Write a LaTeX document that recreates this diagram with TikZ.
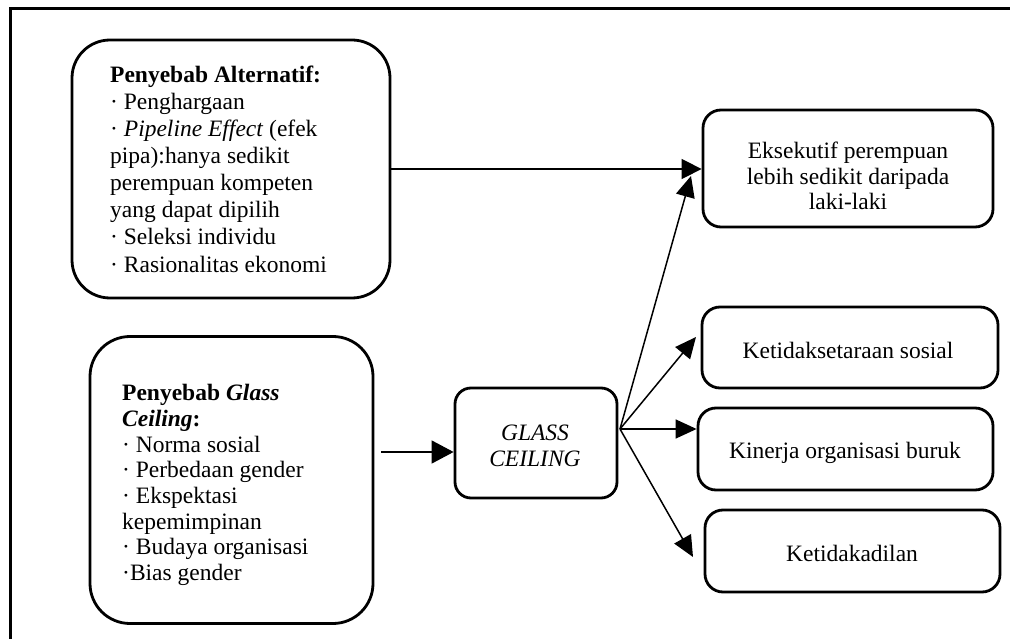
\documentclass[tikz,border=0pt]{standalone}
\usepackage{fontspec}
\setmainfont{Liberation Serif}
\usetikzlibrary{arrows.meta}
\begin{document}
\begin{tikzpicture}[x=1pt,y=-1pt,
  box/.style={draw, line width=2.8pt, rounded corners=#1, inner sep=0pt},
  box/.default=16pt,
  txt/.style={font=\fontsize{23.5}{25.5}\selectfont, inner sep=0pt},
  arr/.style={line width=1.5pt, -{Triangle[length=21pt,width=19pt]}},
  frame/.style={line width=3pt}]
\useasboundingbox (0,0) rectangle (1010,639);
\draw[frame] (10,645) -- (10,9) -- (1015,9);
% boxes
\node[box=38pt, minimum width=318pt, minimum height=258pt] (A) at (231,169) {};
\node[box=40pt, minimum width=283pt, minimum height=287pt] (B) at (231.5,480) {};
\node[box=16pt, minimum width=162pt, minimum height=110pt] (GC) at (536,443) {};
\node[box=18pt, minimum width=290pt, minimum height=117pt] (E1) at (848,168.5) {};
\node[box=18pt, minimum width=296pt, minimum height=81pt] (E2) at (850,347.5) {};
\node[box=18pt, minimum width=295pt, minimum height=82pt] (E3) at (845.5,449) {};
\node[box=18pt, minimum width=295pt, minimum height=82pt] (E4) at (852.5,551) {};
% texts
\node[txt, anchor=west, align=left, font=\fontsize{23.5}{27.1}\selectfont] (At) at (110,169) {%
  \textbf{Penyebab Alternatif:}\\
  · Penghargaan\\
  · \textit{Pipeline Effect} (efek\\
  pipa):hanya sedikit\\
  perempuan kompeten\\
  yang dapat dipilih\\
  · Seleksi individu\\
  · Rasionalitas ekonomi};
\node[txt, anchor=west, align=left, font=\fontsize{23.5}{25.7}\selectfont] (Bt) at (122,485) {%
  \textbf{Penyebab \textit{Glass}}\\
  \textbf{\textit{Ceiling}:}\\
  · Norma sosial\\
  · Perbedaan gender\\
  · Ekspektasi\\
  kepemimpinan\\
  · Budaya organisasi\\
  ·Bias gender};
\node[txt, align=center] (GCt) at (535,446) {\textit{GLASS}\\\textit{CEILING}};
\node[txt, align=center] (E1t) at (848,176) {Eksekutif perempuan\\lebih sedikit daripada\\laki-laki};
\node[txt] (E2t) at (848,350) {Ketidaksetaraan sosial};
\node[txt] (E3t) at (845,453) {Kinerja organisasi buruk};
\node[txt] (E4t) at (852,553) {Ketidakadilan};
% connectors
\draw[arr, -{Triangle[length=20pt,width=20pt]}] (A.east) -- (A.east -| E1.west);
\coordinate (bs) at (381,452);
\draw[arr, -{Triangle[length=22pt,width=23pt]}] (bs) -- (bs -| GC.west);
\coordinate (fan) at (620,429);
\coordinate (t1) at (691,176);
\coordinate (t2) at (696,337);
\coordinate (t4) at (693,557);
\draw[arr] (fan) -- (t1);
\draw[arr] (fan) -- (t2);
\draw[arr] (fan) -- (fan -| E3.west);
\draw[arr] (fan) -- (t4);
\end{tikzpicture}
\end{document}
